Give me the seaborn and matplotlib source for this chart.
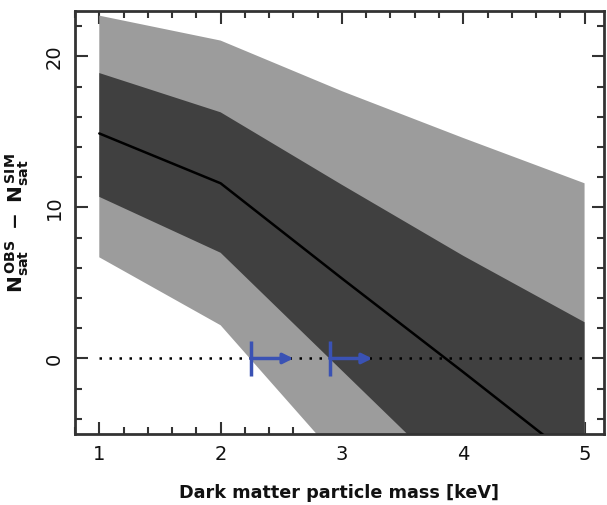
import numpy as np
import pandas as pd
import matplotlib
matplotlib.use("Agg")
import matplotlib.pyplot as plt
import seaborn as sns
from matplotlib.ticker import MultipleLocator

# Data
mass_kev = [1, 2, 3, 4, 5]
mean_diff = [14.9, 11.6, 5.3, -0.9, -7.2]
dark_upper = [18.9, 16.3, 11.5, 6.8, 2.4]
dark_lower = [10.7, 7.0, -0.8, -8.6, -16.4]
light_upper = [22.7, 21.05, 17.7, 14.6, 11.6]
light_lower = [6.7, 2.2, -6.9, -16.0, -25.0]
limit_masses = [2.25, 2.9]
arrow_length = 0.35

sns.set_style("ticks")
plt.rcParams['font.family'] = ['DejaVu Sans']

fig = plt.figure(figsize=(6.07, 5.05), dpi=100)
ax = fig.add_axes([0.1236, 0.1406, 0.8714, 0.8374])

ax.fill_between(mass_kev, light_lower, light_upper, color="#9c9c9c", lw=0, zorder=1)
ax.fill_between(mass_kev, dark_lower, dark_upper, color="#404040", lw=0, zorder=2)

df = pd.DataFrame({"mass": mass_kev, "diff": mean_diff})
sns.lineplot(data=df, x="mass", y="diff", color="black", lw=1.8, ax=ax, zorder=3)

ax.plot([mass_kev[0], mass_kev[-1]], [0, 0], color="black", lw=1.8,
        linestyle=(0, (1, 3)), zorder=4)

blue = "#3a52b4"
for m in limit_masses:
    ax.plot([m, m], [-1.15, 1.15], color=blue, lw=2.5, zorder=5, solid_capstyle="butt")
    ax.annotate("", xy=(m + arrow_length, 0), xytext=(m, 0),
                arrowprops=dict(arrowstyle="-|>,head_length=0.6,head_width=0.3",
                                color=blue, lw=2.5, shrinkA=0, shrinkB=0),
                zorder=5)

ax.set_xlim(0.8, 5.16)
ax.set_ylim(-5, 23)
ax.xaxis.set_major_locator(MultipleLocator(1))
ax.xaxis.set_minor_locator(MultipleLocator(0.2))
ax.yaxis.set_major_locator(MultipleLocator(10))
ax.yaxis.set_minor_locator(MultipleLocator(2))
ax.tick_params(which="both", direction="in", top=True, right=True, width=1.5,
               color="#333333", labelcolor="#111111")
ax.tick_params(which="major", length=9, labelsize=14, pad=8)
ax.tick_params(which="minor", length=5)
for lab in ax.get_yticklabels():
    lab.set_rotation(90)
    lab.set_va("center")
for sp in ax.spines.values():
    sp.set_linewidth(2)
    sp.set_color("#333333")

ax.set_xlabel("Dark matter particle mass [keV]", fontsize=12.7, fontweight="bold",
              color="#111111", labelpad=14)
ax.set_ylabel(r"$\mathbf{N_{sat}^{\,OBS}\ -\ N_{sat}^{\,SIM}}$", fontsize=14.5,
              color="#111111", labelpad=10)

fig.savefig("out.png", dpi=100)
